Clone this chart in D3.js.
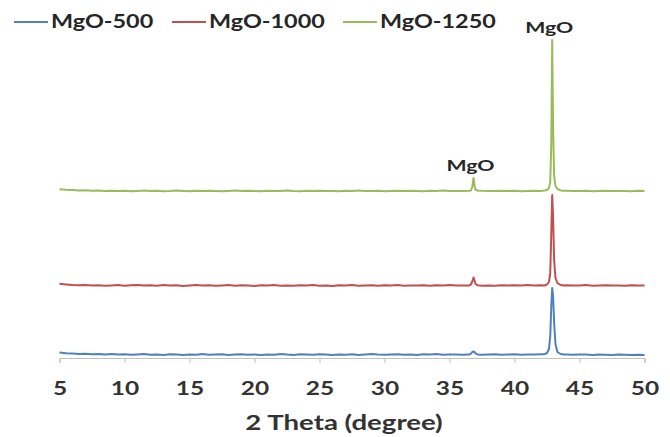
<!DOCTYPE html>
<html>
<head>
<meta charset="utf-8">
<script src="https://cdn.jsdelivr.net/npm/d3@7/dist/d3.min.js"></script>
<style>
  html, body { margin: 0; padding: 0; background: #fff; }
  svg { display: block; }
  text { font-family: Lato, "Open Sans", sans-serif; font-weight: bold; }
</style>
</head>
<body>
<svg id="chart" width="670" height="437"></svg>
<script>
// 2θ sampling positions (degrees), denser around the MgO reflections
const twoTheta = [
  5.0, 5.5, 6.0, 6.5, 7.0, 7.5, 8.0, 8.5, 9.0, 9.5,
  10.0, 10.5, 11.0, 11.5, 12.0, 12.5, 13.0, 13.5, 14.0, 14.5,
  15.0, 15.5, 16.0, 16.5, 17.0, 17.5, 18.0, 18.5, 19.0, 19.5,
  20.0, 20.5, 21.0, 21.5, 22.0, 22.5, 23.0, 23.5, 24.0, 24.5,
  25.0, 25.5, 26.0, 26.5, 27.0, 27.5, 28.0, 28.5, 29.0, 29.5,
  30.0, 30.5, 31.0, 31.5, 32.0, 32.5, 33.0, 33.5, 34.0, 34.5,
  35.0, 35.5, 36.0,
  36.5, 36.65, 36.75, 36.85, 36.93, 37.0, 37.15, 37.5,
  38.0, 38.5, 39.0, 39.5, 40.0, 40.5, 41.0, 41.5, 42.0,
  42.3, 42.5, 42.65, 42.75, 42.83, 42.9, 42.97, 43.05, 43.15, 43.3, 43.55, 43.8,
  44.0, 44.5, 45.0, 45.5, 46.0, 46.5, 47.0, 47.5, 48.0, 48.5, 49.0, 49.5, 50.0
];

// Intensities (a.u., patterns stacked with vertical offsets)
const mgo500 = [
  5.6, 4.8, 4.5, 4.1, 4.3, 3.8, 4.0, 3.6, 3.9, 3.4,
  3.7, 3.2, 3.6, 3.9, 3.3, 3.5, 3.1, 3.8, 3.4, 3.0,
  3.6, 3.3, 3.9, 3.2, 3.5, 3.7, 3.1, 3.4, 3.8, 3.2,
  3.5, 3.0, 3.6, 3.3, 3.9, 3.4, 3.1, 3.7, 3.5, 3.2,
  3.8, 3.4, 3.0, 3.6, 3.3, 3.7, 3.1, 3.5, 3.9, 3.4,
  3.2, 3.6, 3.8, 3.3, 3.5, 3.1, 3.7, 3.4, 3.9, 3.2,
  3.6, 3.5, 3.3,
  3.4, 4.3, 5.8, 6.6, 5.9, 4.6, 3.6, 3.2,
  3.4, 3.7, 3.2, 3.5, 3.8, 3.3, 3.6, 3.4, 3.7,
  3.8, 5.0, 9.0, 22.0, 52.0, 70.0, 62.0, 35.0, 14.0, 6.0, 4.0, 3.4,
  3.5, 3.2, 3.6, 3.4, 3.1, 3.5, 3.3, 3.0, 3.4, 3.2, 2.9, 3.3, 3.1
];

const mgo1000 = [
  74.2, 73.6, 73.0, 72.7, 72.9, 72.4, 72.8, 72.3, 72.6, 72.9,
  72.2, 72.7, 73.1, 72.5, 72.8, 72.3, 72.9, 72.4, 72.7, 72.1,
  72.6, 73.0, 72.4, 72.8, 72.2, 72.6, 72.9, 72.3, 72.7, 72.5,
  72.1, 72.8, 72.4, 72.9, 72.3, 72.6, 72.2, 72.8, 72.5, 72.9,
  72.3, 72.6, 72.1, 72.7, 72.4, 72.9, 72.2, 72.6, 72.8, 72.3,
  72.7, 72.4, 72.9, 72.2, 72.6, 72.5, 72.8, 72.3, 72.7, 72.4,
  72.9, 72.5, 72.6,
  72.4, 73.5, 76.5, 80.5, 77.0, 74.0, 72.8, 72.3,
  72.6, 72.3, 72.8, 72.4, 72.7, 72.5, 72.9, 72.6, 72.8,
  72.5, 73.5, 76.0, 85.0, 125.0, 163.0, 140.0, 98.0, 80.0, 75.0, 73.0, 72.4,
  72.7, 72.4, 72.6, 72.9, 72.3, 72.5, 72.8, 72.4, 72.6, 72.3, 72.7, 72.5, 72.4
];

const mgo1250 = [
  168.8, 168.3, 168.0, 167.6, 167.8, 167.3, 167.5, 167.0, 167.2, 166.9,
  167.3, 166.8, 167.1, 167.4, 166.9, 167.2, 166.8, 167.0, 167.5, 167.1,
  166.8, 167.2, 166.9, 167.3, 167.0, 166.7, 167.1, 167.4, 166.9, 167.2,
  167.0, 166.8, 167.3, 167.1, 166.9, 167.4, 167.0, 166.8, 167.2, 167.0,
  167.3, 166.9, 167.1, 166.7, 167.2, 167.0, 167.4, 166.9, 167.1, 167.3,
  166.8, 167.0, 167.2, 166.9, 167.3, 167.1, 166.8, 167.2, 167.0, 167.4,
  166.9, 167.1, 167.0,
  167.3, 167.6, 171.0, 180.0, 172.0, 168.2, 167.5, 167.2,
  167.1, 166.9, 167.3, 167.0, 167.2, 166.8, 167.1, 167.3, 167.0,
  167.5, 168.0, 170.0, 176.0, 215.0, 318.0, 230.0, 182.0, 172.0, 169.0, 167.6, 167.2,
  167.2, 166.9, 167.1, 167.3, 166.8, 167.0, 167.2, 166.9, 167.1, 167.0, 166.8, 167.2, 167.0
];

const seriesNames = ["MgO-500", "MgO-1000", "MgO-1250"];
const seriesColors = ["#4F81BD", "#C0504D", "#9BBB59"];
const xTicks = [5, 10, 15, 20, 25, 30, 35, 40, 45, 50];

// Peak annotations: [2θ, intensity at label baseline, text]
const peakLabels = [
  [36.85, 187, "MgO"],
  [42.9, 325, "MgO"]
];

const svg = d3.select("#chart");

const x = d3.scaleLinear().domain([5, 50]).range([59.5, 644.5]);
const y = d3.scaleLinear().domain([0, 340]).range([358, 18]);

// x axis
const xAxis = svg.append("g")
  .attr("transform", `translate(0,${y(0)})`)
  .call(d3.axisBottom(x).tickValues(xTicks).tickSize(5).tickPadding(19).tickFormat(d3.format("d")));
xAxis.select(".domain").attr("stroke", "#bfbfbf").attr("stroke-width", 1);
xAxis.selectAll(".tick line").attr("stroke", "#bfbfbf");
xAxis.selectAll(".tick text")
  .attr("fill", "#333")
  .attr("transform", "scale(1.36,1)")
  .style("font-size", "18px")
  .style("font-family", "Lato, sans-serif")
  .style("font-weight", "bold");

svg.append("text")
  .attr("transform", "translate(344,430) scale(1.38,1)")
  .attr("text-anchor", "middle")
  .attr("fill", "#333")
  .style("font-size", "20px")
  .text("2 Theta (degree)");

// diffraction patterns
const series = [mgo500, mgo1000, mgo1250];
const line = d3.line().x((d, i) => x(twoTheta[i])).y(d => y(d));
svg.append("g").selectAll("path")
  .data(series)
  .join("path")
  .attr("d", d => line(d))
  .attr("fill", "none")
  .attr("stroke", (d, i) => seriesColors[i])
  .attr("stroke-width", 2)
  .attr("stroke-linejoin", "round");

// peak labels
svg.append("g").selectAll("text")
  .data(peakLabels)
  .join("text")
  .attr("transform", d => `translate(${x(d[0]) - 3},${y(d[1])}) scale(1.42,1)`)
  .attr("text-anchor", "middle")
  .attr("fill", "#262626")
  .style("font-size", "15px")
  .text(d => d[2]);

// legend
const legendX = [14, 172, 343];
const legend = svg.append("g").selectAll("g")
  .data(seriesNames)
  .join("g")
  .attr("transform", (d, i) => `translate(${legendX[i]},22)`);
legend.append("line")
  .attr("x1", 0).attr("x2", 34)
  .attr("stroke", (d, i) => seriesColors[i])
  .attr("stroke-width", 2);
legend.append("text")
  .attr("transform", "translate(37,5.5) scale(1.3,1)")
  .attr("fill", "#262626")
  .style("font-size", "18px")
  .text(d => d);
</script>
</body>
</html>
